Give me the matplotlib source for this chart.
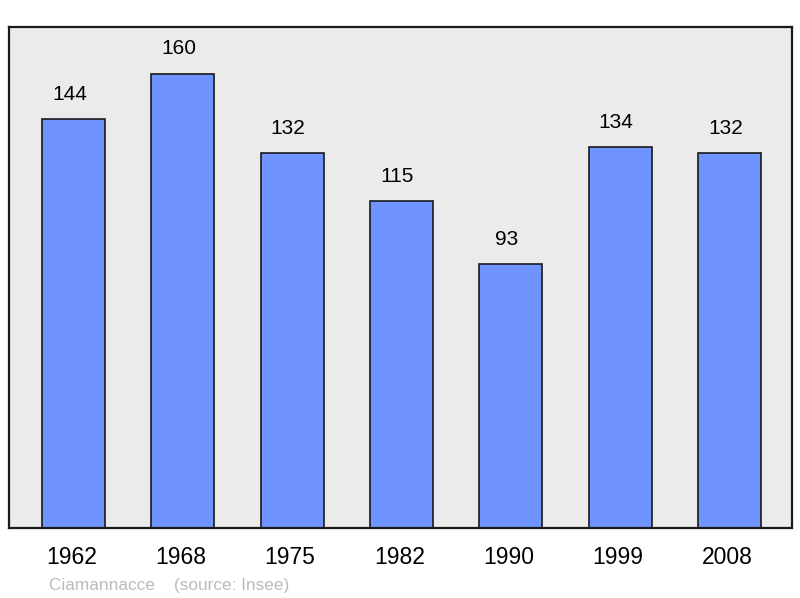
import matplotlib
matplotlib.use("Agg")
import matplotlib.pyplot as plt
from matplotlib.transforms import offset_copy

years = ["1962", "1968", "1975", "1982", "1990", "1999", "2008"]
population = [144, 160, 132, 115, 93, 134, 132]
commune = "Ciamannacce"
source = "(source: Insee)"

plt.rcParams['font.family'] = ['Liberation Sans', 'DejaVu Sans']

fig = plt.figure(figsize=(8, 5.98), dpi=100)
ax = fig.add_axes([9/800, 70/598, 783/800, 501/598])
ax.set_facecolor('#ebebeb')

x = list(range(len(years)))
ax.bar(x, population, width=0.576, color='#7094ff', edgecolor='#1a1a1a', linewidth=1.2, zorder=2)
for xi, v in zip(x, population):
    ax.annotate(str(v), (xi, v), xytext=(-3, 11), textcoords='offset points',
                ha='center', va='bottom', fontsize=15, color='black')

ax.set_xlim(-0.59, 6.57)
ax.set_ylim(0, 176.4)
ax.set_yticks([])
ax.set_xticks(x)
ax.set_xticklabels(years, fontsize=16.5)
ax.tick_params(axis='x', length=0, pad=13)
for lab in ax.get_xticklabels():
    lab.set_transform(offset_copy(lab.get_transform(), fig=fig, x=-1.5, y=0, units='points'))
for s in ax.spines.values():
    s.set_linewidth(1.6)
    s.set_color('#1a1a1a')

fig.text(49/800, 1 - 590/598, commune + "    " + source, fontsize=12.4, color='#bbbbbb',
         ha='left', va='baseline')

fig.savefig('out.png', dpi=100)
